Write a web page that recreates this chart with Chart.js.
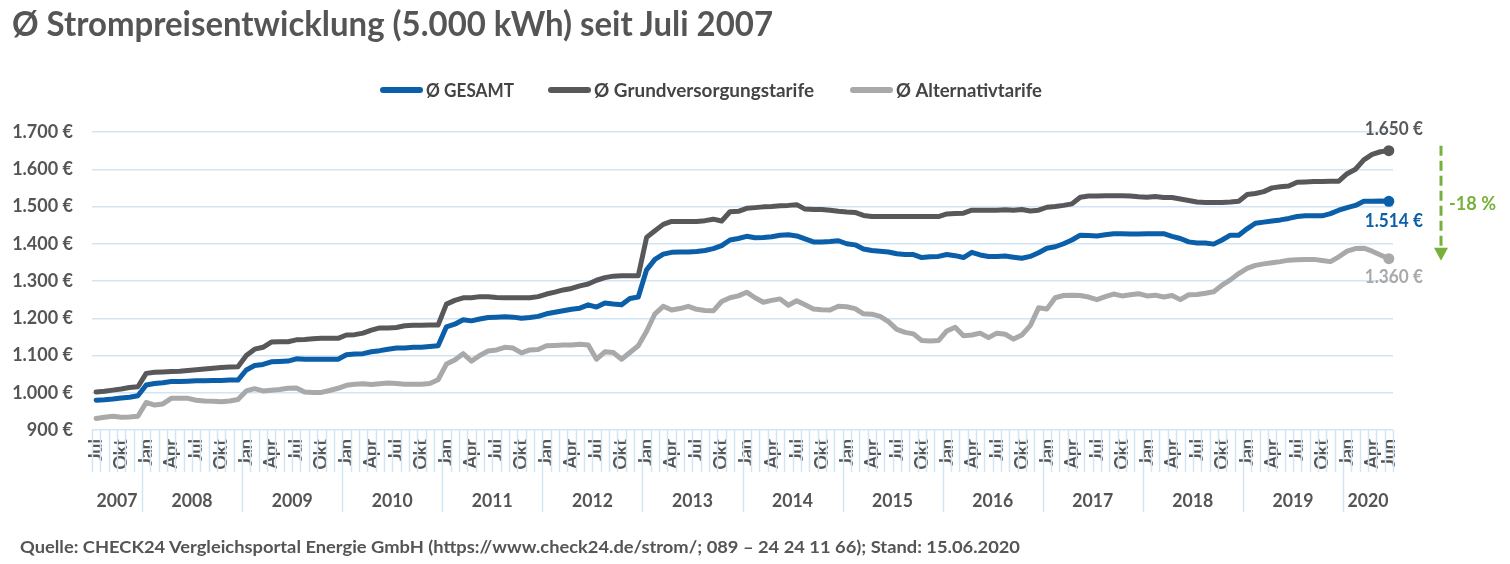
<!DOCTYPE html>
<html>
<head>
<meta charset="utf-8">
<script src="https://cdn.jsdelivr.net/npm/chart.js@4.4.1/dist/chart.umd.min.js"></script>
<style>
html,body{margin:0;padding:0;background:#fff;width:1510px;height:564px;overflow:hidden;}
#wrap{position:relative;width:1510px;height:564px;}
#c{position:absolute;left:0;top:0;}
.txt{position:absolute;white-space:nowrap;font-family:Lato,'Open Sans',sans-serif;font-weight:bold;color:#555;transform-origin:0 0;display:inline-block;}
#title{left:12px;top:6px;font-size:34px;line-height:34px;color:#555;}
#source{left:20px;top:538px;font-size:17px;line-height:17px;color:#555;}
</style>
</head>
<body>
<div id="wrap">
<canvas id="c" width="1510" height="564"></canvas>
<div id="title" class="txt">Ø Strompreisentwicklung (5.000 kWh) seit Juli 2007</div>
<div id="source" class="txt">Quelle: CHECK24 Vergleichsportal Energie GmbH (https://www.check24.de/strom/; 089 – 24 24 11 66); Stand: 15.06.2020</div>
</div>
<script>
// ---------- DATA ----------
const monthNames = ['Jan','Feb','Mär','Apr','Mai','Jun','Jul','Aug','Sep','Okt','Nov','Dez'];
const shownMonths = ['Jan','Apr','Jul','Okt'];
const years = [2007,2008,2009,2010,2011,2012,2013,2014,2015,2016,2017,2018,2019,2020];
const startMonthIndex = 6;   // Jul 2007
const endMonthIndex = 5;     // Jun 2020
const seriesLabels = ['Ø GESAMT','Ø Grundversorgungstarife','Ø Alternativtarife'];
const yTickValues = [900,1000,1100,1200,1300,1400,1500,1600,1700];
const changeLabel = '-18 %';

const gesamt = [
  980,981,983,986,988,992,
  1021,1025,1027,1030,1030,1031,1032,1032,1033,1033,1034,1034,
  1061,1073,1076,1083,1084,1085,1091,1090,1090,1090,1090,1090,
  1102,1104,1105,1110,1113,1117,1120,1120,1122,1122,1124,1126,
  1177,1184,1196,1193,1198,1202,1203,1204,1203,1200,1202,1205,
  1212,1216,1220,1224,1227,1236,1230,1241,1238,1236,1253,1257,
  1330,1358,1372,1377,1378,1378,1379,1382,1387,1395,1410,1414,
  1420,1416,1417,1419,1423,1424,1421,1413,1405,1405,1406,1408,
  1400,1397,1386,1382,1380,1378,1373,1371,1371,1363,1365,1366,
  1371,1368,1363,1377,1370,1366,1366,1367,1364,1361,1366,1376,
  1388,1392,1400,1410,1423,1422,1421,1424,1427,1427,1426,1426,
  1427,1427,1427,1420,1414,1405,1402,1402,1399,1410,1423,1423,
  1440,1455,1458,1461,1464,1468,1473,1475,1475,1475,1481,1490,
  1497,1503,1514,1514,1515,1514
];
const grund = [
  1002,1004,1007,1010,1014,1016,
  1052,1055,1056,1057,1058,1060,1062,1064,1066,1068,1069,1070,
  1100,1117,1122,1136,1137,1137,1142,1143,1145,1146,1146,1146,
  1155,1156,1160,1168,1174,1174,1175,1180,1181,1181,1182,1182,
  1238,1248,1255,1255,1258,1258,1256,1255,1255,1255,1255,1258,
  1265,1270,1276,1280,1287,1292,1302,1309,1313,1314,1314,1314,
  1417,1435,1452,1460,1460,1460,1460,1462,1466,1461,1486,1487,
  1495,1497,1499,1500,1502,1503,1505,1493,1492,1492,1490,1487,
  1485,1484,1476,1473,1473,1473,1473,1473,1473,1473,1473,1473,
  1480,1481,1482,1490,1490,1490,1490,1491,1490,1492,1488,1490,
  1498,1500,1503,1507,1525,1528,1528,1529,1529,1529,1528,1526,
  1525,1527,1524,1524,1520,1516,1512,1511,1511,1511,1512,1514,
  1532,1535,1540,1550,1553,1555,1565,1566,1567,1567,1568,1568,
  1588,1600,1625,1640,1647,1650
];
const alternativ = [
  931,934,937,934,935,937,
  974,967,970,985,985,985,980,978,977,976,978,982,
  1005,1011,1005,1007,1009,1012,1013,1002,1001,1001,1006,1012,
  1020,1023,1024,1022,1024,1026,1025,1023,1023,1023,1025,1035,
  1077,1088,1105,1085,1100,1112,1115,1122,1120,1107,1115,1116,
  1126,1127,1128,1128,1130,1128,1090,1110,1108,1090,1108,1126,
  1165,1212,1232,1222,1226,1232,1224,1221,1220,1245,1255,1260,
  1270,1255,1243,1248,1252,1235,1247,1236,1225,1223,1222,1232,
  1231,1226,1212,1211,1205,1191,1170,1162,1158,1140,1139,1140,
  1166,1176,1153,1155,1160,1148,1160,1157,1144,1155,1180,1228,
  1225,1255,1261,1262,1261,1257,1250,1258,1265,1260,1263,1266,
  1260,1262,1257,1261,1250,1263,1264,1267,1271,1289,1303,1320,
  1334,1342,1346,1349,1352,1356,1357,1358,1358,1355,1352,1365,
  1380,1387,1388,1380,1370,1360
];

// categories built from month names and years
const categories = [];
const categoryYears = [];
years.forEach((y, yi) => {
  const m0 = yi === 0 ? startMonthIndex : 0;
  const m1 = yi === years.length - 1 ? endMonthIndex : 11;
  for (let m = m0; m <= m1; m++) { categories.push(monthNames[m] + ' ' + y); categoryYears.push(y); }
});

// ---------- STYLE ----------
const BLUE = '#0b5ea8', DARK = '#58585a', LIGHT = '#a9a9a9', GREEN = '#77b03a';
const GRID = '#d2e5f5', TEXT = '#555555';
const FONT = 'Lato, "Open Sans", sans-serif';

function fmt(v){ return v >= 1000 ? Math.floor(v/1000) + '.' + String(v % 1000).padStart(3,'0') : String(v); }

function fitScaleX(el, target){
  const w = el.getBoundingClientRect().width;
  if (w > 0) el.style.transform = 'scaleX(' + (target / w) + ')';
}

function drawFitText(ctx, text, x, y, size, target, align, color){
  ctx.save();
  ctx.font = 'bold ' + size + 'px ' + FONT;
  const w = ctx.measureText(text).width;
  const k = target ? target / w : 1;
  let x0 = x;
  if (align === 'center') x0 = x - (w * k) / 2;
  else if (align === 'right') x0 = x - w * k;
  ctx.translate(x0, y);
  ctx.scale(k, 1);
  ctx.fillStyle = color;
  ctx.textAlign = 'left';
  ctx.textBaseline = 'alphabetic';
  ctx.fillText(text, 0, 0);
  ctx.restore();
}

const decor = {
  id: 'decor',
  afterDraw(chart){
    const ctx = chart.ctx;
    const xs = chart.scales.x, ys = chart.scales.y;
    const area = chart.chartArea;
    const n = categories.length;
    const step = xs.getPixelForValue(1) - xs.getPixelForValue(0);

    // month separator ticks and year separators below axis
    ctx.save();
    ctx.strokeStyle = GRID;
    ctx.lineWidth = 1.5;
    for (let i = 0; i <= n; i++) {
      const bx = Math.round(xs.getPixelForValue(Math.min(i, n-1)) + (i === n ? step/2 : -step/2)) + 0.5;
      const isYear = i > 0 && i < n && categoryYears[i] !== categoryYears[i-1];
      ctx.beginPath();
      ctx.moveTo(bx, area.bottom);
      ctx.lineTo(bx, isYear ? area.bottom + 82 : area.bottom + 42);
      ctx.stroke();
    }
    ctx.restore();

    // year labels
    years.forEach(y => {
      const first = categoryYears.indexOf(y), last = categoryYears.lastIndexOf(y);
      const cx = (xs.getPixelForValue(first) + xs.getPixelForValue(last)) / 2;
      drawFitText(ctx, String(y), cx, area.bottom + 77, 19, 41, 'center', TEXT);
    });

    // legend
    const legendItems = [
      {c: BLUE, x: 380, t: seriesLabels[0], w: 88},
      {c: DARK, x: 548, t: seriesLabels[1], w: 220},
      {c: LIGHT, x: 850, t: seriesLabels[2], w: 146}
    ];
    legendItems.forEach(it => {
      ctx.save();
      ctx.strokeStyle = it.c; ctx.lineWidth = 6; ctx.lineCap = 'round';
      ctx.beginPath(); ctx.moveTo(it.x + 3, 90); ctx.lineTo(it.x + 40, 90); ctx.stroke();
      ctx.restore();
      drawFitText(ctx, it.t, it.x + 46, 97, 19, it.w, 'left', '#444');
    });

    // end value annotations
    const li = n - 1;
    const xe = xs.getPixelForValue(li);
    const yG = ys.getPixelForValue(grund[li]);
    const yB = ys.getPixelForValue(gesamt[li]);
    const yA = ys.getPixelForValue(alternativ[li]);
    drawFitText(ctx, fmt(grund[li]) + ' €', xe + 5, yG - 16, 18, 58, 'center', DARK);
    drawFitText(ctx, fmt(gesamt[li]) + ' €', xe + 5, yB + 26, 18, 58, 'center', BLUE);
    drawFitText(ctx, fmt(alternativ[li]) + ' €', xe + 5, yA + 24, 18, 58, 'center', LIGHT);

    // green dashed arrow
    const ax = area.right + 48;
    const yTop = yG - 5, yTip = yA + 2;
    ctx.save();
    ctx.strokeStyle = GREEN; ctx.lineWidth = 3; ctx.setLineDash([10, 5]);
    ctx.beginPath(); ctx.moveTo(ax, yTop); ctx.lineTo(ax, yTip - 13); ctx.stroke();
    ctx.setLineDash([]);
    ctx.fillStyle = GREEN;
    ctx.beginPath(); ctx.moveTo(ax - 7, yTip - 13); ctx.lineTo(ax + 7, yTip - 13); ctx.lineTo(ax, yTip); ctx.closePath(); ctx.fill();
    ctx.restore();
    drawFitText(ctx, changeLabel, ax + 8, (yTop + yTip) / 2 + 7, 19, 47, 'left', GREEN);
  }
};

function build(){
  fitScaleX(document.getElementById('title'), 761);
  fitScaleX(document.getElementById('source'), 1000);
  const last = categories.length - 1;
  const mk = (label, data, color) => ({
    label, data, borderColor: color, backgroundColor: color,
    borderWidth: 5, tension: 0, borderCapStyle: 'round', borderJoinStyle: 'round',
    pointRadius: c => c.dataIndex === last ? 5.5 : 0,
    pointBackgroundColor: color, pointBorderColor: color, pointBorderWidth: 0,
    pointHoverRadius: 0, fill: false
  });
  new Chart(document.getElementById('c'), {
    type: 'line',
    data: {
      labels: categories,
      datasets: [
        mk(seriesLabels[0], gesamt, BLUE),
        mk(seriesLabels[1], grund, DARK),
        mk(seriesLabels[2], alternativ, LIGHT)
      ]
    },
    options: {
      responsive: false, animation: false, devicePixelRatio: 1,
      layout: { padding: { top: 132, right: 117, left: 0, bottom: 0 } },
      plugins: { legend: { display: false }, tooltip: { enabled: false }, title: { display: false } },
      events: [],
      scales: {
        x: {
          type: 'category', offset: true,
          grid: { display: false, drawTicks: false },
          border: { display: false },
          ticks: {
            autoSkip: false, maxRotation: 90, minRotation: 90, padding: 9,
            color: TEXT, font: { family: FONT, weight: 'bold', size: 18 },
            callback: function(value, index){
              const lab = categories[index].split(' ')[0];
              return (shownMonths.includes(lab) || index === last) ? lab : '';
            }
          },
          afterFit: s => { s.height = 134; }
        },
        y: {
          min: yTickValues[0], max: yTickValues[yTickValues.length - 1],
          afterBuildTicks: s => { s.ticks = yTickValues.map(v => ({ value: v })); },
          grid: { color: GRID, lineWidth: 1.5, drawTicks: false },
          border: { display: false },
          ticks: {
            padding: 19, color: TEXT, font: { family: FONT, weight: 'bold', size: 18 },
            callback: v => fmt(v) + ' €'
          },
          afterFit: s => { s.width = 92; }
        }
      }
    },
    plugins: [decor]
  });
}

if (document.fonts && document.fonts.load) {
  Promise.all([document.fonts.load('bold 18px Lato')]).then(build, build);
} else build();
</script>
</body>
</html>
